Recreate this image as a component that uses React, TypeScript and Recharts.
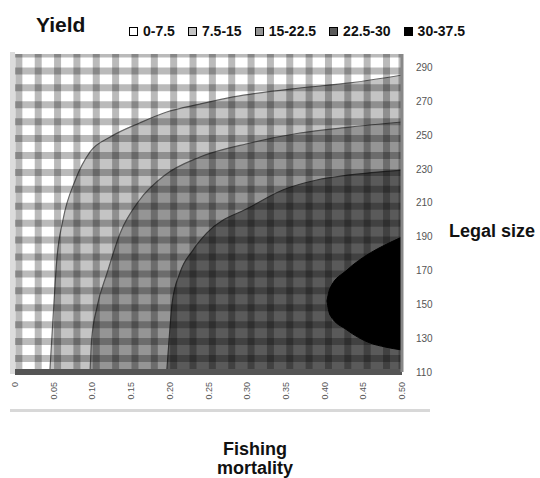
import React from 'react';
import { ComposedChart, Area, XAxis, YAxis, ReferenceLine } from 'recharts';

// Axis ticks
const fishingTicks = [0, 0.05, 0.1, 0.15, 0.2, 0.25, 0.3, 0.35, 0.4, 0.45, 0.5];
const legalSizeTicks = [110, 130, 150, 170, 190, 210, 230, 250, 270, 290];

// Background grid (checkered wall) positions in data units
const gridF = [0.005, 0.03, 0.055, 0.08, 0.105, 0.13, 0.155, 0.18, 0.205, 0.23, 0.255, 0.28, 0.305, 0.33, 0.355, 0.38, 0.405, 0.43, 0.455, 0.48, 0.5];
const gridL = [298, 288, 278, 268, 258, 248, 238, 228, 218, 208, 198, 188, 178, 168, 158, 148, 138, 128, 118];

// Yield bands
const bandLabels = ['0-7.5', '7.5-15', '15-22.5', '22.5-30', '30-37.5'];
const bandColors = ['#ffffff', '#c4c4c4', '#959595', '#5a5a5a', '#000000'];

// Contour yield = 7.5 (legal size by fishing mortality)
const c1F = [0.045, 0.049, 0.054, 0.062, 0.078, 0.097, 0.123, 0.161, 0.196, 0.239, 0.282, 0.368, 0.433, 0.5];
const c1L = [110, 140.7, 176.2, 199.9, 223.5, 240.1, 248.9, 257.2, 263.7, 268.4, 272.6, 277.9, 280.9, 285.6];

// Contour yield = 15
const c2F = [0.097, 0.099, 0.106, 0.119, 0.136, 0.161, 0.194, 0.239, 0.304, 0.368, 0.433, 0.5];
const c2L = [110, 128.9, 148.4, 168.5, 192.2, 211.7, 226.5, 237.1, 245.4, 251.3, 254.8, 257.8];

// Contour yield = 22.5
const c3F = [0.196, 0.2, 0.203, 0.213, 0.23, 0.248, 0.304, 0.346, 0.39, 0.433, 0.5];
const c3L = [110, 134.8, 150.8, 168.5, 182.1, 192.2, 207.5, 217.6, 223.5, 226.5, 229.4];

// Contour yield = 30 (closed region, lower & upper legal size)
const c4F = [0.403, 0.407, 0.429, 0.459, 0.478, 0.5];
const c4Lo = [152.0, 143.7, 134.8, 127.1, 124.8, 123.0];
const c4Hi = [152.0, 159.5, 170.3, 180.4, 185.1, 189.8];

type Row = { F: number; c1?: number | null; c2?: number | null; c3?: number | null; c4lo?: number | null; c4hi?: number | null };

function buildTable(): Row[] {
  const map = new Map<number, Row>();
  const get = (f: number) => {
    if (!map.has(f)) map.set(f, { F: f, c1: null, c2: null, c3: null, c4lo: null, c4hi: null });
    return map.get(f)!;
  };
  c1F.forEach((f, i) => { get(f).c1 = c1L[i]; });
  c2F.forEach((f, i) => { get(f).c2 = c2L[i]; });
  c3F.forEach((f, i) => { get(f).c3 = c3L[i]; });
  c4F.forEach((f, i) => { const r = get(f); r.c4lo = c4Lo[i]; r.c4hi = c4Hi[i]; });
  return Array.from(map.values()).sort((a, b) => a.F - b.F);
}

const data = buildTable();

const FONT = '"Liberation Sans", Arial, sans-serif';

const XTick = (props: any) => {
  const { x, y, payload } = props;
  const v = payload.value as number;
  const label = v === 0 ? '0' : v.toFixed(2);
  return (
    <text x={x} y={y} transform={`rotate(-90, ${x}, ${y})`} textAnchor="end" dominantBaseline="central"
      fontSize={9} fill="#555" fontFamily={FONT}>{label}</text>
  );
};

const YTick = (props: any) => {
  const { x, y, payload } = props;
  return (
    <text x={x} y={y} textAnchor="start" dominantBaseline="central" fontSize={10} fill="#555" fontFamily={FONT}>
      {payload.value}
    </text>
  );
};

export default function App() {
  return (
    <div style={{ position: 'absolute', left: 0, top: 0, width: 540, height: 478, background: '#fff', overflow: 'hidden' }}>
      {/* decorative wall edges */}
      <div style={{ position: 'absolute', left: 10, top: 52, width: 5, height: 322, background: '#dcdcdc' }} />
      <div style={{ position: 'absolute', left: 10, top: 409, width: 420, height: 3, background: '#d8d8d8' }} />
      <ComposedChart width={540} height={478} data={data} margin={{ top: 54, right: 98, bottom: 61, left: 15 }}
        style={{ position: 'absolute', left: 0, top: 0 }}>
        <XAxis dataKey="F" type="number" domain={[0, 0.5]} ticks={fishingTicks} interval={0} allowDataOverflow
          height={45} axisLine={{ stroke: '#555', strokeWidth: 6 }} tickLine={false} tick={<XTick />} tickMargin={4} />
        <YAxis orientation="right" type="number" domain={[110, 298]} ticks={legalSizeTicks} interval={0} allowDataOverflow
          width={40} axisLine={{ stroke: '#888', strokeWidth: 3 }} tickLine={false} tick={<YTick />} tickMargin={8} />
        <Area dataKey="c1" type="monotone" connectNulls baseValue="dataMin" fill={bandColors[1]} fillOpacity={1}
          stroke="#666" strokeWidth={1.2} isAnimationActive={false} dot={false} activeDot={false} />
        <Area dataKey="c2" type="monotone" connectNulls baseValue="dataMin" fill={bandColors[2]} fillOpacity={1}
          stroke="#555" strokeWidth={1.2} isAnimationActive={false} dot={false} activeDot={false} />
        <Area dataKey="c3" type="monotone" connectNulls baseValue="dataMin" fill={bandColors[3]} fillOpacity={1}
          stroke="#333" strokeWidth={1.2} isAnimationActive={false} dot={false} activeDot={false} />
        <Area dataKey={(d: Row) => (d.c4lo != null && d.c4hi != null ? [d.c4lo, d.c4hi] : null)} name="c4"
          type="monotone" connectNulls fill={bandColors[4]} fillOpacity={1}
          stroke="#000" strokeWidth={1} isAnimationActive={false} dot={false} activeDot={false} />
        {gridF.map((f) => (
          <ReferenceLine key={'gx' + f} x={f} stroke="#000" strokeOpacity={0.27} strokeWidth={7} ifOverflow="hidden" />
        ))}
        {gridL.map((l) => (
          <ReferenceLine key={'gy' + l} y={l} stroke="#000" strokeOpacity={0.27} strokeWidth={7} ifOverflow="hidden" />
        ))}
      </ComposedChart>
      {/* legend */}
      <div style={{ position: 'absolute', left: 129, top: 24, display: 'flex', alignItems: 'center', fontFamily: FONT,
        fontSize: 14, fontWeight: 'bold', lineHeight: '14px', color: '#111' }}>
        {bandLabels.map((lab, i) => (
          <div key={lab} style={{ display: 'flex', alignItems: 'center', marginRight: 13 }}>
            <span style={{ display: 'inline-block', width: 7, height: 7, border: '1px solid #000', background: bandColors[i], marginRight: 5 }} />
            <span>{lab}</span>
          </div>
        ))}
      </div>
      <svg width={540} height={478} style={{ position: 'absolute', left: 0, top: 0, pointerEvents: 'none' }}>
        <text x={36} y={32} fontFamily={FONT} fontWeight="bold" fontSize={21} fill="#111">Yield</text>
        <text x={449} y={237} fontFamily={FONT} fontWeight="bold" fontSize={18} fill="#111">Legal size</text>
        <text x={255} y={455} fontFamily={FONT} fontWeight="bold" fontSize={18} fill="#111" textAnchor="middle">Fishing</text>
        <text x={255} y={474} fontFamily={FONT} fontWeight="bold" fontSize={18} fill="#111" textAnchor="middle">mortality</text>
      </svg>
    </div>
  );
}
